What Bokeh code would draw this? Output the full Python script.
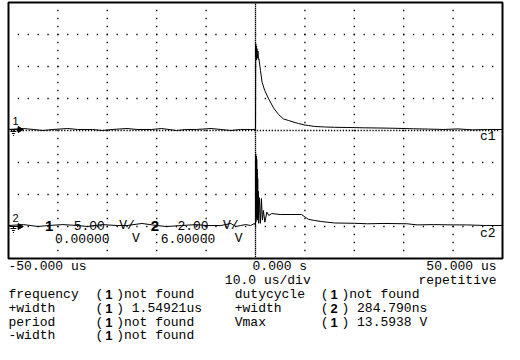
import numpy as np
from bokeh.plotting import figure
from bokeh.models import Range1d
from bokeh.core.properties import value
from bokeh.embed import file_html
from bokeh.resources import INLINE

time_per_div = 10.0          # us/div
ch1_volts_per_div, ch1_offset = 5.0, 0.0
ch2_volts_per_div, ch2_offset = 2.0, 6.0

ch1_t = [-50, -47, -45, -43, -41, -38, -36, -33, -31, -29, -26, -24, -21, -19,
         -16, -14, -12, -9, -7, -5, -3, -1, 0.0, 0.05, 0.1, 0.15, 0.2, 0.3, 0.4,
         0.5, 0.6, 0.7, 1.0, 1.33, 1.87, 2.67, 3.67, 4.67, 5.67, 6.7, 8.0, 8.7,
         10.0, 10.7, 12.0, 14.0, 16.0, 18.7, 22.0, 25.0, 28.0, 32.0, 35.0, 38.0,
         41.0, 44.0, 47.0, 50.0]
ch1_v = [0.16, 0.31, 0.16, 0.0, 0.16, 0.31, 0.16, 0.16, 0.0, 0.16, 0.31, 0.16,
         0.16, 0.31, 0.0, 0.16, 0.16, 0.31, 0.16, 0.0, 0.16, 0.16, 0.16, 13.59,
         11.6, 13.2, 11.0, 12.8, 11.3, 12.4, 11.1, 11.2, 9.4, 7.55, 6.25, 4.95,
         3.5, 2.5, 1.8, 1.56, 1.25, 1.1, 0.85, 0.78, 0.63, 0.55, 0.5, 0.47, 0.42,
         0.39, 0.35, 0.27, 0.22, 0.16, 0.25, 0.1, 0.16, 0.16]

ch2_t = [-50, -47, -44, -42, -39, -36, -34, -31, -28, -26, -23, -20, -18, -15,
         -12, -10, -7, -5, -4, -3, -2, -1, -0.2, 0.0, 0.05, 0.1, 0.15, 0.2, 0.25,
         0.3, 0.35, 0.4, 0.45, 0.5, 0.55, 0.65, 0.8, 1.0, 1.2, 1.4, 1.6, 1.9, 2.3,
         2.7, 3.3, 5.0, 7.0, 9.3, 10.0, 10.7, 12.0, 13.3, 16.0, 20.0, 22.7, 26.0,
         30.7, 32.7, 36.0, 40.0, 42.7, 46.7, 50.0]
ch2_v = [0.06, 0.12, 0.0, 0.06, 0.12, 0.06, 0.0, 0.12, 0.06, 0.06, 0.19, 0.06,
         0.0, 0.06, 0.12, 0.06, 0.06, 0.19, 0.0, 0.06, 0.12, 0.06, 0.19, 0.06,
         4.55, 0.3, 4.4, 0.5, 4.2, 0.8, 3.6, 0.4, 3.0, 1.0, 2.2, 0.2, 1.8, 0.2,
         1.75, 0.4, 1.0, 0.27, 0.9, 0.69, 0.81, 0.75, 0.75, 0.75, 0.6, 0.45,
         0.375, 0.31, 0.22, 0.2, 0.17, 0.19, 0.17, 0.1, 0.12, 0.1, 0.1, 0.06, 0.06]

time_labels = ["-50.000 us", "0.000  s", "50.000 us"]
timebase_label = "10.0 us/div"
mode_label = "repetitive"
meas_names_left = ["frequency", "+width", "period", "-width"]
meas_ch_left = ["1", "1", "1", "1"]
meas_vals_left = [")not found", ") 1.54921us", ")not found", ")not found"]
meas_names_right = ["dutycycle", "+width", "Vmax"]
meas_ch_right = ["1", "2", "1"]
meas_vals_right = [")not found", ") 284.790ns", ") 13.5938 V"]

# ---------------- layout ----------------
W, H = 504, 344
FL, FT, FW, FH = 8, 2, 494, 256
NX, NY = 10, 8
pxu = FW / (NX * time_per_div)      # px per us
pyd = FH / NY                       # px per division
x0 = -NX * time_per_div / 2 - FL / pxu
x1 = x0 + W / pxu
ytop = NY / 2 + FT / pyd
ybot = ytop - H / pyd

def fx2t(fx):
    return x0 + fx / pxu

def fy2d(fy):
    return ytop - fy / pyd

def PX(px):   # reference page x -> data x
    return fx2t(FL + (px - 16) * FW / 500.0)

def PY(py):   # reference page y (inside screen) -> data y (divisions)
    return fy2d(py - 10)

p = figure(width=W, height=H, x_range=Range1d(x0, x1), y_range=Range1d(ybot, ytop),
           output_backend="svg", toolbar_location=None, min_border=0,
           x_axis_type=None, y_axis_type=None)
p.outline_line_color = None
p.background_fill_color = "white"
p.border_fill_color = "white"
p.extra_y_ranges = {
    "ch1": Range1d(ch1_offset + ybot * ch1_volts_per_div, ch1_offset + ytop * ch1_volts_per_div),
    "ch2": Range1d(ch2_offset + ybot * ch2_volts_per_div, ch2_offset + ytop * ch2_volts_per_div),
}

half_t = NX * time_per_div / 2
# graticule dots
gx, gy = [], []
for d in [-3, -2, -1, 1, 2, 3]:
    for t in np.arange(-48, 48.1, 2):
        gx.append(t); gy.append(d)
for t in [-40, -30, -20, -10, 10, 20, 30, 40]:
    for d in np.arange(-3.75, 3.8, 0.25):
        gx.append(t); gy.append(d)
for t in np.arange(-49.4, 49.5, 0.6):
    gx.append(t); gy.append(0)
for d in np.arange(-3.9375, 3.95, 0.0625):
    gx.append(0); gy.append(d)
p.scatter(gx, gy, marker="square", size=1.3, color="black", line_width=0)

# frame
p.quad(left=[-half_t], right=[half_t], bottom=[-NY / 2], top=[NY / 2],
       fill_color=None, line_color="black", line_width=2)

# traces
p.line(ch1_t, ch1_v, y_range_name="ch1", color="black", line_width=1)
p.line(ch2_t, ch2_v, y_range_name="ch2", color="black", line_width=1)

# ground markers
def gmark(py, label):
    p.segment([PX(17)], [PY(py)], [PX(26)], [PY(py)], color="black", line_width=1)
    p.scatter([PX(27.5)], [PY(py)], marker="triangle", size=6, angle=-np.pi / 2,
              color="black")
    p.segment([PX(21), PX(18), PX(19.5), PX(20.5)],
              [PY(py), PY(py + 2), PY(py + 4), PY(py + 6)],
              [PX(21), PX(24), PX(22.5), PX(21.5)],
              [PY(py + 2), PY(py + 2), PY(py + 4), PY(py + 6)],
              color="black", line_width=1)
    p.text([PX(20)], [PY(py - 9)], text=[label], text_font=value("Liberation Sans"),
           text_font_size="11px", text_baseline="middle", text_align="left",
           text_color="black")

gmark(139, "1")
gmark(236, "2")

MONO = value("Liberation Mono")

def txt(xs, ys, texts, align="left", size="13px", bold=False, font=MONO):
    p.text(xs, ys, text=texts, text_font=font, text_font_size=size,
           text_baseline="middle", text_align=align, text_color="black",
           text_font_style="bold" if bold else "normal")

# channel labels on the right
txt([PX(509), PX(509)], [PY(146), PY(243)], ["c1", "c2"], align="right")

# overlay channel settings
txt([PX(53), PX(160)], [PY(235), PY(235)], ["1", "2"], size="15px", bold=True,
    font=value("Liberation Sans"))
txt([PX(82), PX(128), PX(187), PX(233)], [PY(235)] * 4,
    ["%.2f" % ch1_volts_per_div, "V/", "%.2f" % ch2_volts_per_div, "V/"])
txt([PX(63), PX(141), PX(170), PX(245)], [PY(248)] * 4,
    ["%.5f" % ch1_offset, "V", "%.5f" % ch2_offset, "V"])

# rows below the screen (figure pixel y)
rows = [fy2d(v) for v in [265.5, 279.5, 293.5, 307.5, 321.5, 335.0]]
txt([PX(16), PX(263)], [rows[0]] * 2, [time_labels[0], time_labels[1]])
txt([PX(510)], [rows[0]], [time_labels[2]], align="right")
txt([PX(235)], [rows[1]], [timebase_label])
txt([PX(510)], [rows[1]], [mode_label], align="right")

for i in range(4):
    y = rows[2 + i]
    txt([PX(16), PX(104), PX(125)], [y] * 3,
        [meas_names_left[i], "(", meas_vals_left[i]])
    txt([PX(114)], [y], [meas_ch_left[i]], bold=True, font=value("Liberation Sans"))
for i in range(3):
    y = rows[2 + i]
    txt([PX(245), PX(332), PX(353)], [y] * 3,
        [meas_names_right[i], "(", meas_vals_right[i]])
    txt([PX(342)], [y], [meas_ch_right[i]], bold=True, font=value("Liberation Sans"))

open("out.html", "w").write(file_html(p, INLINE))
